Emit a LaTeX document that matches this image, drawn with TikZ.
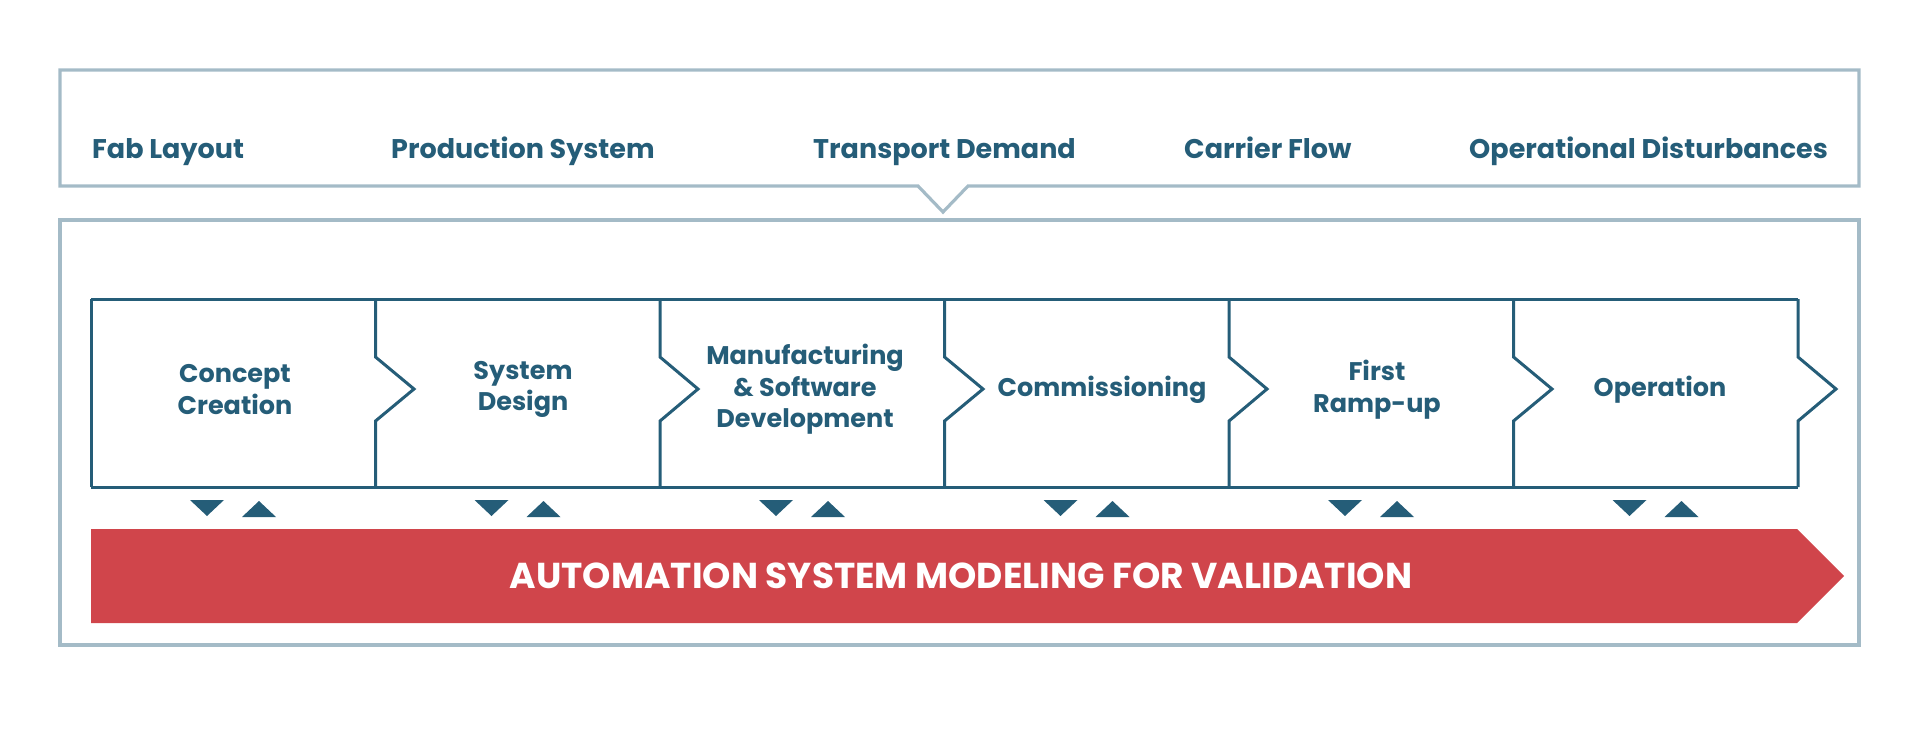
\documentclass[tikz,border=0pt]{standalone}
\usepackage{fontspec}
\usepackage{tikz}
\setmainfont{Poppins}

\definecolor{frameblue}{HTML}{A4BBC7}
\definecolor{phaseblue}{HTML}{255D78}
\definecolor{modelred}{HTML}{D0454B}

\begin{document}
\begin{tikzpicture}[x=1pt,y=1pt,yscale=-1,xscale=1,
  frame/.style={draw=frameblue,line width=3.2pt,line join=miter},
  phase/.style={draw=phaseblue,line width=3pt,line join=miter},
  input/.style={anchor=base west,inner sep=0pt,text=phaseblue,font=\fontsize{27}{32}\selectfont\bfseries},
  phaselabel/.style={inner sep=0pt,align=center,text=phaseblue,font=\fontsize{25.5}{31.5}\selectfont\bfseries},
  marker/.style={fill=phaseblue,draw=none}]
\useasboundingbox (0,0) rectangle (1920,732); %set diagram to 1920 x 732

%Shape: Input frame with notch
\draw [frame] (60,70) -- (1859,70) -- (1859,186) -- (968,186) -- (943,212) -- (918,186) -- (60,186) -- cycle ;
%Shape: Outer frame
\draw [frame] (60,220) rectangle (1859,645) ;

% Text Node
\node [input] (fab) at (92,158) {Fab Layout};
% Text Node
\node [input] (prod) at (391,158) {Production System};
% Text Node
\node [input] (demand) at (813,158) {Transport Demand};
% Text Node
\node [input] (carrier) at (1184,158) {Carrier Flow};
% Text Node
\node [input] (disturb) at (1469,158) {Operational Disturbances};

%Shape: Phase chain outline
\draw [phase] (91,299) -- (1798,299) ;
\draw [phase] (91,487) -- (1798,487) ;
\draw [phase] (91,299) -- (91,487) ;
%Shape: Chevron dividers
\draw [phase] (375.5,299) -- (375.5,357) -- (414,389) -- (375.5,421) -- (375.5,487) ;
\draw [phase] (660,299) -- (660,357) -- (698,389) -- (660,421) -- (660,487) ;
\draw [phase] (944.5,299) -- (944.5,357) -- (983,389) -- (944.5,421) -- (944.5,487) ;
\draw [phase] (1229,299) -- (1229,357) -- (1267,389) -- (1229,421) -- (1229,487) ;
\draw [phase] (1513.5,299) -- (1513.5,357) -- (1552,389) -- (1513.5,421) -- (1513.5,487) ;
\draw [phase] (1798,299) -- (1798,357) -- (1836,389) -- (1798,421) -- (1798,487) ;

% Text Node
\node [phaselabel] (concept) at (235,389.5) {Concept\\Creation};
% Text Node
\node [phaselabel] (design) at (523,389.5) {System\\Design};
% Text Node
\node [phaselabel] (manuf) at (805,389.5) {Manufacturing\\\& Software\\Development};
% Text Node
\node [phaselabel] (commiss) at (1102,389.5) {Commissioning};
% Text Node
\node [phaselabel] (rampup) at (1377,389.5) {First\\Ramp-up};
% Text Node
\node [phaselabel] (operation) at (1660,389.5) {Operation};

%Shape: Exchange markers (down / up)
\fill [marker] (190,500) -- (224,500) -- (207,516) -- cycle ;
\fill [marker] (242,517) -- (276,517) -- (259,501) -- cycle ;
\fill [marker] (474.5,500) -- (508.5,500) -- (491.5,516) -- cycle ;
\fill [marker] (526.5,517) -- (560.5,517) -- (543.5,501) -- cycle ;
\fill [marker] (759,500) -- (793,500) -- (776,516) -- cycle ;
\fill [marker] (811,517) -- (845,517) -- (828,501) -- cycle ;
\fill [marker] (1043.5,500) -- (1077.5,500) -- (1060.5,516) -- cycle ;
\fill [marker] (1095.5,517) -- (1129.5,517) -- (1112.5,501) -- cycle ;
\fill [marker] (1328,500) -- (1362,500) -- (1345,516) -- cycle ;
\fill [marker] (1380,517) -- (1414,517) -- (1397,501) -- cycle ;
\fill [marker] (1612.5,500) -- (1646.5,500) -- (1629.5,516) -- cycle ;
\fill [marker] (1664.5,517) -- (1698.5,517) -- (1681.5,501) -- cycle ;

%Shape: Modeling arrow
\fill [modelred] (91,529) -- (1797,529) -- (1844,576) -- (1797,623) -- (91,623) -- cycle ;
% Text Node
\node [inner sep=0pt,text=white,font=\fontsize{36}{42}\selectfont\bfseries] (model) at (961,576) {AUTOMATION SYSTEM MODELING FOR VALIDATION};

\end{tikzpicture}
\end{document}
